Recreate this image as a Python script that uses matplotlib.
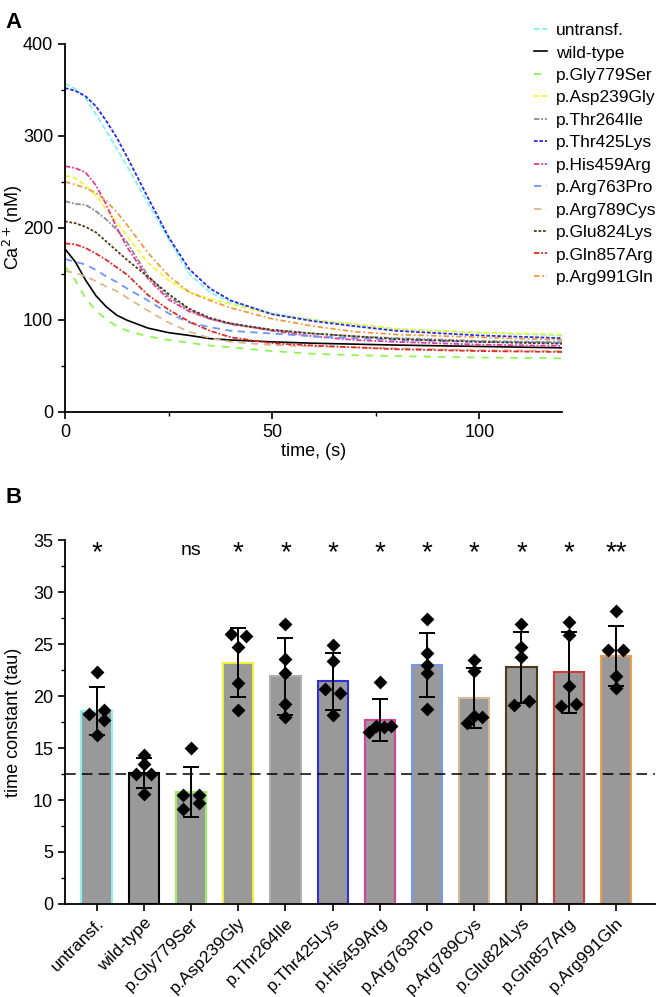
import matplotlib
matplotlib.use("Agg")
import matplotlib.pyplot as plt
import numpy as np
from matplotlib.ticker import MultipleLocator

plt.rcParams["font.family"] = ["Liberation Sans", "DejaVu Sans"]

# Panel A data: Ca2+ traces (nM)
time_s = [0, 2.5, 5, 7.5, 10, 12.5, 15, 20, 25, 30, 35, 40, 50, 60, 70, 80, 100, 120]
untransf = [357, 351, 341, 323, 305, 286, 267, 227, 188, 150, 130, 119, 107, 100, 95, 90, 86, 83]
wild_type = [177, 163, 143, 126, 114, 105, 99.5, 91, 86, 83, 79.5, 78, 76, 74.5, 73.5, 72.5, 71, 69.5]
gly779ser = [158, 143, 123, 110, 100, 93, 88, 82, 78, 75, 72, 70, 66, 63, 61.5, 60.5, 59, 58]
asp239gly = [257, 254, 246, 235, 220, 206, 191, 162, 143, 130, 123, 117, 106, 99.5, 95.5, 90, 86, 84]
thr264ile = [229, 226, 225, 218, 209, 198, 184, 148, 125, 111, 101, 95, 89, 85, 82, 80, 77, 75.5]
thr425lys = [352, 349, 343, 332, 316, 298, 277, 233, 190, 155, 134, 121, 106, 98.5, 93, 88, 83, 80]
his459arg = [267, 265, 260, 246, 225, 200, 179, 145, 122, 109, 101, 96, 88, 82, 78, 76, 73, 71.5]
arg763pro = [166, 163, 160, 154, 147, 141, 134, 121, 107, 97, 92, 88, 85, 82, 80, 78, 76, 75]
arg789cys = [153, 151, 147, 142, 136, 131, 124, 110, 97, 87, 80, 76, 72.5, 71, 70, 69, 67, 66]
glu824lys = [207, 205, 201, 195, 185, 175, 165, 147, 128, 112, 102, 96, 89, 85, 82, 79, 76, 74]
gln857arg = [183, 182, 178, 172, 165, 157, 149, 127, 111, 98, 88, 81, 74.5, 72, 70, 68, 66, 65]
arg991gln = [250, 247, 243, 238, 229, 217, 203, 173, 148, 130, 121, 113, 101, 93, 87, 84, 81, 78]

groups = ["untransf.", "wild-type", "p.Gly779Ser", "p.Asp239Gly", "p.Thr264Ile",
          "p.Thr425Lys", "p.His459Arg", "p.Arg763Pro", "p.Arg789Cys",
          "p.Glu824Lys", "p.Gln857Arg", "p.Arg991Gln"]
traces = [untransf, wild_type, gly779ser, asp239gly, thr264ile, thr425lys,
          his459arg, arg763pro, arg789cys, glu824lys, gln857arg, arg991gln]

# Panel B data: time constants (tau)
tau_mean = [18.6, 12.6, 10.8, 23.2, 21.9, 21.4, 17.7, 23.0, 19.8, 22.75, 22.3, 23.85]
tau_sd = [2.3, 1.4, 2.4, 3.3, 3.7, 2.7, 2.0, 3.1, 2.9, 3.4, 3.9, 2.85]
tau_points = [
    [22.3, 18.7, 18.3, 17.7, 16.3],
    [14.3, 13.5, 12.5, 12.5, 10.6],
    [15.0, 10.5, 10.5, 9.7, 9.1],
    [26.0, 25.8, 24.7, 21.25, 18.65],
    [26.9, 23.6, 22.2, 19.2, 17.95],
    [24.9, 23.4, 20.7, 20.3, 18.2],
    [21.35, 17.1, 17.0, 17.1, 16.5],
    [27.4, 24.1, 23.0, 22.2, 18.8],
    [23.5, 22.4, 18.1, 18.0, 17.4],
    [26.9, 24.7, 23.8, 19.1, 19.55],
    [27.1, 25.9, 21.0, 19.0, 19.2],
    [28.2, 24.4, 24.4, 21.9, 20.8],
]
signif = ["*", "", "ns", "*", "*", "*", "*", "*", "*", "*", "*", "**"]
wt_line = 12.5

# layout / style
swarm_side = [
    [0, 1, -1, 1, 0],
    [0, 0, -1, 1, 0],
    [0, -1, 1, 1, -1],
    [-1, 1, 0, 0, 0],
    [0, 0, 0, 0, 0],
    [0, 0, -1, 1, 0],
    [0, -0.5, 0.5, 1.5, -1.5],
    [0, 0, 0, 0, 0],
    [0, 0, 0, 1, -1],
    [0, 0, 0, -1, 1],
    [0, 0, 0, -1, 1],
    [0, -1, 1, 0, 0],
]
colors = ["#7ff5f5", "#000000", "#8cf550", "#f5f53a", "#8c8c8c", "#2a2ae6",
          "#e6399a", "#6f95ff", "#dcb88c", "#4d3b17", "#e02a2a", "#f09a3c"]
bar_edges = ["#8ff0f0", "#000000", "#99f066", "#f0f033", "#b0b0b0", "#3030d8",
             "#d8409a", "#7399f5", "#d8bb94", "#4d3b17", "#d83a3a", "#e8a050"]
styles = [(0, (3, 1.5)), "-", (0, (4, 4)), (0, (3, 1.5)), (0, (3, 1, 1, 1)),
          (0, (2, 1)), (0, (3, 1, 1, 1)), (0, (4, 3)), (0, (4, 3)),
          (0, (1.5, 1)), (0, (3, 1, 1, 1)), (0, (3, 1.5, 1, 1.5))]

fig = plt.figure(figsize=(6.63, 9.97), dpi=100)

# ---- Panel A
axA = fig.add_axes([0.098, 0.587, 0.750, 0.369])
for tr, lab, c, ls in zip(traces, groups, colors, styles):
    axA.plot(time_s, tr, color=c, ls=ls, lw=1.3 if ls != "-" else 1.2, label=lab)
axA.set_xlim(0, 120)
axA.set_ylim(0, 400)
axA.xaxis.set_major_locator(MultipleLocator(50))
axA.xaxis.set_minor_locator(MultipleLocator(25))
axA.yaxis.set_major_locator(MultipleLocator(100))
axA.yaxis.set_minor_locator(MultipleLocator(50))
axA.set_xlabel("time, (s)", fontsize=13, labelpad=2)
axA.set_ylabel("Ca$^{2+}$(nM)", fontsize=13)
axA.yaxis.set_label_coords(-0.080, 0.5)
axA.legend(loc="upper left", bbox_to_anchor=(0.806, 0.977), bbox_transform=fig.transFigure,
           frameon=False, fontsize=12.5, handlelength=0.75, handletextpad=0.5,
           labelspacing=0.42, borderaxespad=0, borderpad=0)

# ---- Panel B
axB = fig.add_axes([0.098, 0.0933, 0.890, 0.3650])
x = np.arange(len(groups))
axB.bar(x, tau_mean, width=0.64, color="#999999", edgecolor=bar_edges, linewidth=1.5, zorder=2)
axB.errorbar(x, tau_mean, yerr=tau_sd, fmt="none", ecolor="black", elinewidth=1.4,
             capsize=6, capthick=1.4, zorder=3)
for i, (pts, sides) in enumerate(zip(tau_points, swarm_side)):
    axB.scatter(i + np.array(sides) * 0.16, pts, marker="D", s=50, color="black",
                linewidths=0, zorder=4)
axB.axhline(wt_line, color="black", ls=(0, (7, 4)), lw=1.1, zorder=5)
for i, s in enumerate(signif):
    if s == "ns":
        axB.text(i, 34.0, s, ha="center", va="center", fontsize=14)
    elif s:
        axB.text(i, 33.7, s, ha="center", va="center", fontsize=20)
axB.set_xlim(-0.67, 11.83)
axB.set_ylim(0, 35)
axB.yaxis.set_major_locator(MultipleLocator(5))
axB.yaxis.set_minor_locator(MultipleLocator(2.5))
axB.set_xticks(x)
axB.set_xticklabels(groups, rotation=45, ha="right", rotation_mode="anchor")
axB.set_ylabel("time constant (tau)", fontsize=13)
axB.yaxis.set_label_coords(-0.073, 0.5)

for ax in (axA, axB):
    for sp in ("top", "right"):
        ax.spines[sp].set_visible(False)
    for sp in ("left", "bottom"):
        ax.spines[sp].set_linewidth(1.3)
    ax.tick_params(which="major", length=5, width=1.2, labelsize=13)
    ax.tick_params(which="minor", length=3, width=1.0)
axB.tick_params(axis="x", labelsize=12.5, pad=3)

fig.text(0.008, 0.988, "A", fontsize=16, fontweight="bold", va="top")
fig.text(0.008, 0.512, "B", fontsize=16, fontweight="bold", va="top")

fig.savefig("out.png", dpi=100)
